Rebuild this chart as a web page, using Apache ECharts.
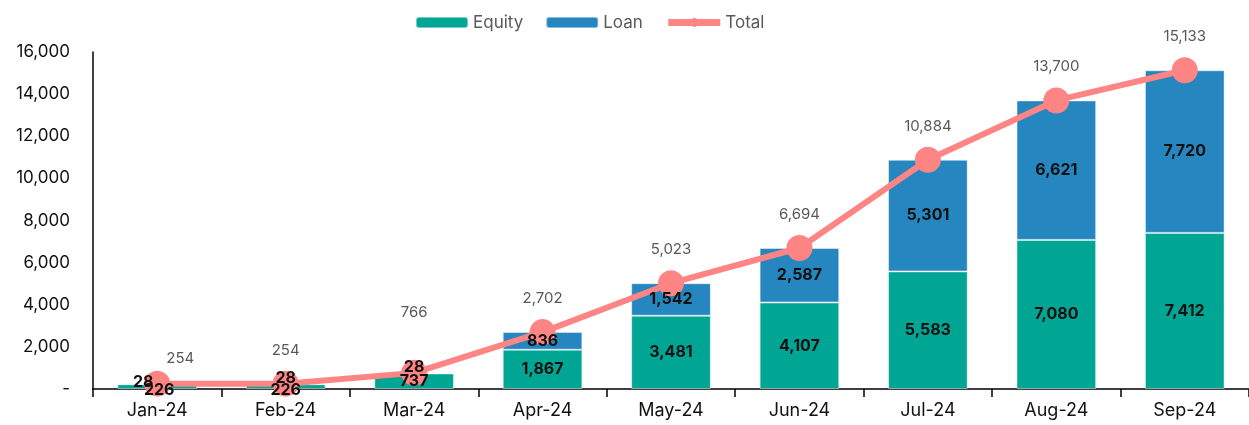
<!DOCTYPE html>
<html>
<head>
<meta charset="utf-8">
<script src="https://cdn.jsdelivr.net/npm/echarts@6/dist/echarts.min.js"></script>
<style>html,body{margin:0;padding:0;background:#fff}#c{width:1249px;height:425px}</style>
</head>
<body>
<div id="c"></div>
<script>
const categories = ['Jan-24','Feb-24','Mar-24','Apr-24','May-24','Jun-24','Jul-24','Aug-24','Sep-24'];
const equity = [226, 226, 737, 1867, 3481, 4107, 5583, 7080, 7412];
const loan = [28, 28, 28, 836, 1542, 2587, 5301, 6621, 7720];
const total = [254, 254, 766, 2702, 5023, 6694, 10884, 13700, 15133];

const fmt = v => v.toLocaleString('en-US');
const FONT = 'Inter';
const barLabel = { show: true, position: 'inside', color: '#111', fontWeight: 'bold', fontSize: 16, fontFamily: FONT, formatter: p => fmt(p.value) };

// tiny segments: nudge labels apart so they stay readable (as in the reference)
const equityLbl = equity.map((v, i) => v < 300 ? { value: v, label: { offset: [i === 0 ? 2 : 0, 4] } } : v);
const loanLbl = loan.map((v, i) => v < 100 ? { value: v, label: { offset: [i === 0 ? -14 : 0, i === 0 ? -2 : -6] } } : v);
const totalPts = total.map((v, i) => i === 0 ? { value: v, label: { offset: [23, 8] } }
                                 : i === 2 ? { value: v, label: { offset: [0, -27] } } : v);

const chart = echarts.init(document.getElementById('c'));
chart.setOption({
  animation: false,
  textStyle: { fontFamily: FONT },
  legend: {
    top: 9, left: 410,
    itemWidth: 52, itemHeight: 11, itemGap: 22,
    textStyle: { color: '#595959', fontSize: 17, fontFamily: FONT },
    data: ['Equity', 'Loan', { name: 'Total', lineStyle: { width: 7 }, itemStyle: { color: '#FF8585' } }]
  },
  grid: { left: 93, right: -2, top: 52, bottom: 36 },
  xAxis: {
    type: 'category', data: categories,
    axisLine: { lineStyle: { color: '#000', width: 1.5 } },
    axisTick: { show: true, length: 8, lineStyle: { color: '#000', width: 1.5 } },
    axisLabel: { color: '#111', fontSize: 18, margin: 13, fontFamily: FONT }
  },
  yAxis: {
    type: 'value', min: 0, max: 16000, interval: 2000,
    axisLine: { show: true, lineStyle: { color: '#000', width: 1.5 } },
    axisTick: { show: false },
    splitLine: { show: false },
    axisLabel: { color: '#111', fontSize: 17, margin: 23, fontFamily: FONT,
      formatter: v => v === 0 ? '-' : fmt(v) }
  },
  series: [
    {
      name: 'Equity', type: 'bar', stack: 's', data: equity, barWidth: '62%',
      itemStyle: { color: '#00A693', borderColor: 'rgba(255,255,255,0.45)', borderWidth: 1 },
      z: 2
    },
    {
      name: 'Loan', type: 'bar', stack: 's', data: loan, barWidth: '62%',
      itemStyle: { color: '#2686BF', borderColor: 'rgba(255,255,255,0.45)', borderWidth: 1 },
      z: 2
    },
    {
      name: 'EquityLbl', type: 'bar', stack: 'l', data: equityLbl, barWidth: '62%', barGap: '-100%',
      itemStyle: { color: 'rgba(0,0,0,0)' }, label: barLabel, z: 10, silent: true
    },
    {
      name: 'LoanLbl', type: 'bar', stack: 'l', data: loanLbl, barWidth: '62%', barGap: '-100%',
      itemStyle: { color: 'rgba(0,0,0,0)' }, label: barLabel, z: 10, silent: true
    },
    {
      name: 'Total', type: 'line', data: totalPts,
      symbol: 'circle', symbolSize: 26,
      lineStyle: { color: '#FF8585', width: 6 },
      itemStyle: { color: '#FF8585' },
      label: { show: true, position: 'top', distance: 13, color: '#595959', fontSize: 15, fontFamily: FONT, formatter: p => fmt(p.value) },
      z: 5
    }
  ]
});
</script>
</body>
</html>
